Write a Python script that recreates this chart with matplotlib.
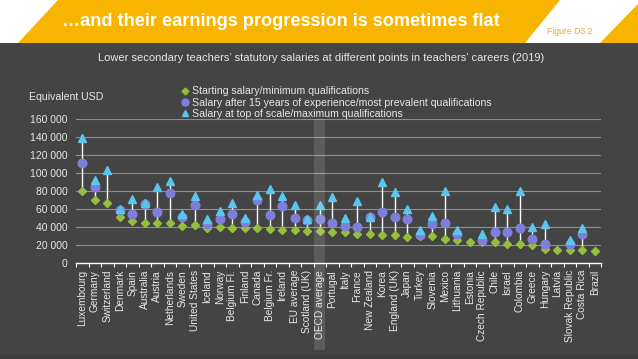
import matplotlib
matplotlib.use("Agg")
import matplotlib.pyplot as plt
from matplotlib.patches import Polygon, Rectangle
from matplotlib.transforms import blended_transform_factory
from matplotlib.lines import Line2D
import numpy as np

plt.rcParams['font.family'] = ['Liberation Sans', 'DejaVu Sans']

countries = ["Luxembourg", "Germany", "Switzerland", "Denmark", "Spain", "Australia",
             "Austria", "Netherlands", "Sweden", "United States", "Iceland", "Norway",
             "Belgium Fl.", "Finland", "Canada", "Belgium Fr.", "Ireland", "EU average",
             "Scotland (UK)", "OECD average", "Portugal", "Italy", "France", "New Zealand",
             "Korea", "England (UK)", "Japan", "Turkey", "Slovenia", "Mexico", "Lithuania",
             "Estonia", "Czech Republic", "Chile", "Israel", "Colombia", "Greece", "Hungary",
             "Latvia", "Slovak Republic", "Costa Rica", "Brazil"]

starting = [80000, 70000, 67000, 50600, 47000, 45000, 44600, 44000, 41300, 41700,
            39400, 39800, 39000, 39000, 38700, 37600, 37200, 36500, 36000, 35300,
            33900, 33900, 32400, 32000, 31600, 31600, 29400, 30500, 29800, 27200,
            25700, 23800, 23400, 23800, 21600, 21600, 20100, 16000, 14900, 14900,
            14900, 13800]
after15 = [111000, 85000, None, 59000, 54700, 65500, 56500, 77800, 51000, 65000,
           43000, 48400, 55000, 46000, 70000, 52800, 63000, 49500, 47600, 48700,
           44300, 41300, 40200, 50600, 56500, 51000, 49000, 31300, 43500, 43900,
           32400, None, 26000, 35000, 35000, 38700, 26800, 21200, None, 20800,
           32400, None]
top_scale = [139000, 92000, 103000, 59500, 71000, 67000, 84000, 91000, 55000, 74400,
             48400, 58000, 67000, 49500, 75500, 82000, 74400, 64400, 48400, 65000,
             73000, 50200, 69200, 51000, 89700, 78500, 60300, 36800, 52000, 80000,
             37200, None, 32000, 62500, 59500, 80000, 40200, 43200, None, 25700,
             39400, None]

yticks = [0, 20000, 40000, 60000, 80000, 100000, 120000, 140000, 160000]
ytick_labels = ["0", "20 000", "40 000", "60 000", "80 000", "100 000", "120 000",
                "140 000", "160 000"]

legend_labels = ["Starting salary/minimum qualifications",
                 "Salary after 15 years of experience/most prevalent qualifications",
                 "Salary at top of scale/maximum qualifications"]

title = "…and their earnings progression is sometimes flat"
subtitle = "Lower secondary teachers\u2019 statutory salaries at different points in teachers\u2019 careers (2019)"
fig_label = "Figure D3.2"
y_label = "Equivalent USD"
highlight = "OECD average"

BG = '#444444'
YEL = '#F7B500'
GREEN = '#94BE3C'
PURPLE = '#7F7FDB'
BLUE = '#5AC6EE'
TXT = '#E6E6E6'

W, H = 638, 359
fig = plt.figure(figsize=(W / 100, H / 100), dpi=100, facecolor=BG)

def fp(x, y):
    return (x / W, 1 - y / H)

# Banner
fig.patches.append(Rectangle(fp(0, 43), 1, 43 / H, transform=fig.transFigure,
                             facecolor='white', edgecolor='none', zorder=0))
fig.patches.append(Polygon([fp(18, 43), fp(58, 0), fp(560, 0), fp(525, 43)],
                           closed=True, transform=fig.transFigure, facecolor=YEL,
                           edgecolor='none', zorder=0.5))
fig.patches.append(Polygon([fp(600, 43), fp(638, 43), fp(638, 4)],
                           closed=True, transform=fig.transFigure, facecolor=YEL,
                           edgecolor='none', zorder=0.5))
fig.patches.append(Rectangle(fp(0, 359), 1, 4 / H, transform=fig.transFigure,
                             facecolor='#3d3d3d', edgecolor='none', zorder=0.5))
fig.text(*fp(62, 22), title, color='white', fontsize=13.1, fontweight='bold',
         va='center', ha='left')
fig.text(*fp(547, 31), fig_label, color='#F2A33A', fontsize=6.2, va='center', ha='left')
fig.text(*fp(321, 58), subtitle, color=TXT, fontsize=8, va='center', ha='center')
fig.text(*fp(29, 97), y_label, color=TXT, fontsize=7.6, va='center', ha='left')

# Axes
ax = fig.add_axes([76 / W, 1 - 263 / H, (601 - 76) / W, (263 - 119) / H])
ax.set_facecolor('none')
n = len(countries)
x = np.arange(n)
ax.set_xlim(-0.5, n - 0.5)
ax.set_ylim(0, 160000)

for yv in yticks[1:]:
    ax.axhline(yv, color='#8E8E8E', lw=0.8, zorder=1)

# high-low lines
for i in range(n):
    vals = [v for v in (starting[i], after15[i], top_scale[i]) if v is not None]
    if len(vals) > 1:
        ax.plot([i, i], [min(vals), max(vals)], color='white', lw=1.0, zorder=2)

s = np.array(starting, dtype=float)
a = np.array([np.nan if v is None else v for v in after15], dtype=float)
t = np.array([np.nan if v is None else v for v in top_scale], dtype=float)

ax.plot(x, s, linestyle='none', marker='D', ms=4.2, color=GREEN, zorder=3, clip_on=False)
ax.plot(x, a, linestyle='none', marker='o', ms=6.2, color=PURPLE, zorder=4, clip_on=False)
ax.plot(x, t, linestyle='none', marker='^', ms=6.0, color=BLUE, zorder=5, clip_on=False)

for sp in ['top', 'right', 'left']:
    ax.spines[sp].set_visible(False)
ax.spines['bottom'].set_color('white')
ax.spines['bottom'].set_linewidth(1.0)

ax.set_yticks(yticks)
ax.set_yticklabels(ytick_labels)
ax.tick_params(axis='y', length=0, pad=6, labelsize=7.5, labelcolor=TXT)
ax.set_xticks(x)
ax.set_xticklabels(countries, rotation=90)
ax.tick_params(axis='x', which='major', length=0, pad=5, labelsize=7.3, labelcolor=TXT)
ax.set_xticks(np.arange(-0.5, n, 1.0), minor=True)
ax.tick_params(axis='x', which='minor', length=3, width=0.8, color='white', direction='out')

# highlight band
hi = countries.index(highlight)
tr = blended_transform_factory(ax.transData, fig.transFigure)
fig.patches.append(Rectangle((hi - 0.45, 1 - 350 / H), 0.9, (350 - 119) / H,
                             transform=tr, facecolor='white', alpha=0.13,
                             edgecolor='none', zorder=5))

# legend
handles = [Line2D([], [], linestyle='none', marker='D', ms=3.5, color=GREEN),
           Line2D([], [], linestyle='none', marker='o', ms=5, color=PURPLE),
           Line2D([], [], linestyle='none', marker='^', ms=5, color=BLUE)]
leg = ax.legend(handles, legend_labels, loc='upper left',
                bbox_to_anchor=fp(181, 86.5), bbox_transform=fig.transFigure,
                frameon=False, fontsize=7.6, handlelength=0.7, handletextpad=0.3,
                labelspacing=0.1, borderpad=0, borderaxespad=0)
for txt in leg.get_texts():
    txt.set_color(TXT)

fig.savefig('out.png', dpi=100, facecolor=BG)
